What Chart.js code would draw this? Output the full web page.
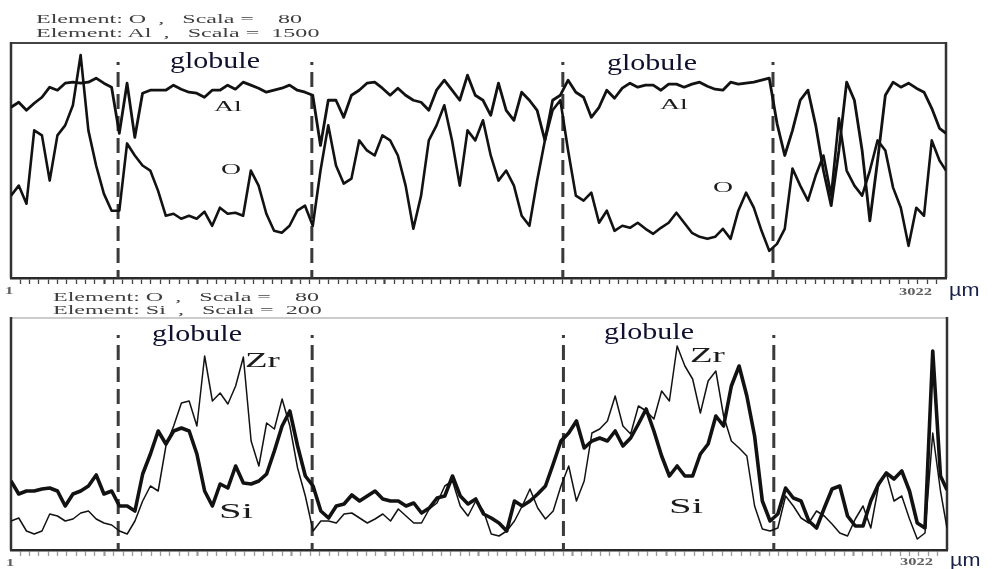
<!DOCTYPE html>
<html>
<head>
<meta charset="utf-8">
<script src="https://cdn.jsdelivr.net/npm/chart.js@4.4.1/dist/chart.umd.min.js"></script>
<style>
  body { margin: 0; background: #fff; width: 993px; height: 569px; position: relative; overflow: hidden; font-family: "Liberation Serif", "DejaVu Serif", serif; }
  canvas { position: absolute; left: 0; }
  #topChart { top: 0; }
  #bottomChart { top: 290px; }
  .txt { position: absolute; white-space: pre; transform-origin: 0 0; line-height: 1; }
  .head { font-size: 13px; color: #3f3f3f; transform: scaleX(1.85); }
  .glob { font-size: 24px; color: #0f0f2e; transform: scaleX(1.25); }
  .el { color: #1c1c1c; transform: scaleX(1.85); }
  .end { font-size: 11px; color: #5e5e5e; font-weight: bold; transform: scaleX(1.5); }
  .unit { font-family: "Liberation Sans", Arial, sans-serif; font-size: 18px; color: #18204a; transform: scaleX(1.2); }
</style>
</head>
<body>
<canvas id="topChart" width="993" height="300"></canvas>
<canvas id="bottomChart" width="993" height="279"></canvas>

<div class="txt head" style="left:36px; top:12px;">Element: O  ,   Scala =    80</div>
<div class="txt head" style="left:36px; top:26px;">Element: Al  ,   Scala =  1500</div>
<div class="txt head" style="left:53px; top:290px;">Element: O  ,   Scala =    80</div>
<div class="txt head" style="left:53px; top:303px;">Element: Si  ,   Scala =  200</div>

<div class="txt glob" style="left:170px; top:48px;">globule</div>
<div class="txt glob" style="left:607px; top:50px;">globule</div>
<div class="txt glob" style="left:152px; top:321px;">globule</div>
<div class="txt glob" style="left:604px; top:319px;">globule</div>

<div class="txt el" style="left:214px; top:99px; font-size:15px;">Al</div>
<div class="txt el" style="left:221px; top:162px; font-size:15px;">O</div>
<div class="txt el" style="left:660px; top:97px; font-size:15px;">Al</div>
<div class="txt el" style="left:713px; top:180px; font-size:15px;">O</div>
<div class="txt el" style="left:245px; top:350px; font-size:20px;">Zr</div>
<div class="txt el" style="left:219px; top:500px; font-size:22px;">Si</div>
<div class="txt el" style="left:690px; top:345px; font-size:20px;">Zr</div>
<div class="txt el" style="left:669px; top:495px; font-size:22px;">Si</div>

<div class="txt end" style="left:5px; top:285px;">1</div>
<div class="txt end" style="left:899px; top:286px;">3022</div>
<div class="txt unit" style="left:949px; top:281px;">µm</div>
<div class="txt end" style="left:6px; top:557px;">1</div>
<div class="txt end" style="left:900px; top:556px;">3022</div>
<div class="txt unit" style="left:950px; top:551px;">µm</div>

<script>
// scan positions along the line, µm
const distance = [
  1, 26, 51, 76, 101, 126, 151, 176, 201, 226, 251, 276, 301, 326, 351, 376, 401, 426, 451, 476,
  501, 526, 551, 576, 601, 626, 651, 676, 701, 726, 751, 776, 801, 826, 851, 876, 901, 926, 951, 976,
  1001, 1026, 1051, 1076, 1101, 1126, 1151, 1176, 1201, 1226, 1251, 1276, 1301, 1326, 1351, 1376, 1401, 1426, 1451, 1476,
  1501, 1526, 1551, 1576, 1601, 1626, 1651, 1676, 1701, 1726, 1751, 1776, 1801, 1826, 1851, 1876, 1901, 1926, 1951, 1976,
  2001, 2026, 2051, 2076, 2101, 2126, 2151, 2176, 2201, 2226, 2251, 2276, 2301, 2326, 2351, 2376, 2401, 2426, 2451, 2476,
  2501, 2526, 2551, 2576, 2601, 2626, 2651, 2676, 2701, 2726, 2751, 2776, 2801, 2826, 2851, 2876, 2901, 2926, 2951, 2976,
  3001, 3022
];

// globule boundaries, µm
const globuleEdges = [347, 973, 1784, 2463];

// scan length is split into 100 divisions, every 10th is a main one
const scanLength = 3022;
const divisions = 100;

// upper scan: Al (Scala 1500) and O (Scala 80), relative counts
const alCounts = [
  170, 175, 167, 174, 180, 190, 187, 194, 195, 194, 195, 199, 194, 190, 144, 194, 140, 184, 187, 187,
  187, 192, 188, 185, 184, 180, 187, 187, 192, 188, 195, 192, 189, 185, 187, 189, 192, 187, 185, 182,
  132, 177, 177, 160, 182, 187, 194, 195, 189, 182, 189, 182, 177, 175, 167, 187, 197, 187, 177, 202,
  182, 177, 162, 194, 167, 157, 185, 177, 167, 137, 177, 182, 197, 185, 180, 160, 170, 187, 179, 189,
  194, 190, 192, 192, 187, 193, 193, 190, 193, 195, 191, 188, 187, 195, 193, 194, 195, 197, 199, 154,
  122, 147, 177, 187, 152, 107, 72, 127, 195, 177, 127, 57, 117, 182, 195, 190, 194, 189, 185, 169,
  149, 144
];
const oCountsTop = [
  82, 92, 74, 147, 142, 97, 142, 152, 172, 222, 147, 112, 84, 67, 67, 134, 122, 112, 107, 87,
  62, 64, 59, 62, 59, 66, 52, 70, 64, 65, 62, 107, 92, 64, 47, 45, 52, 67, 72, 52,
  107, 152, 112, 94, 99, 137, 127, 122, 142, 137, 122, 92, 49, 82, 137, 152, 172, 137, 92, 147,
  137, 157, 122, 97, 107, 92, 62, 52, 97, 137, 167, 177, 127, 82, 77, 85, 55, 67, 47, 52,
  50, 55, 49, 44, 50, 55, 65, 55, 45, 41, 39, 41, 49, 39, 67, 85, 70, 47, 27, 34,
  49, 109, 92, 77, 102, 122, 82, 159, 107, 92, 82, 107, 137, 127, 90, 70, 32, 70, 62, 137,
  117, 107
];

// lower scan: Si (Scala 200) and Zr, relative counts
const siCounts = [
  69, 56, 59, 59, 61, 62, 59, 44, 56, 59, 64, 75, 56, 59, 44, 44, 39, 76, 96, 119,
  106, 119, 122, 119, 96, 59, 44, 66, 62, 84, 67, 66, 69, 76, 99, 124, 139, 104, 74, 64,
  39, 32, 44, 46, 55, 49, 54, 59, 51, 49, 49, 44, 47, 37, 42, 52, 54, 74, 54, 46,
  51, 36, 32, 27, 19, 49, 44, 49, 56, 64, 86, 109, 117, 129, 102, 109, 112, 109, 119, 104,
  112, 126, 141, 119, 94, 74, 84, 74, 74, 96, 106, 134, 124, 164, 184, 154, 114, 49, 29, 36,
  62, 52, 49, 29, 22, 42, 61, 64, 34, 24, 24, 49, 66, 77, 71, 79, 59, 27, 22, 199,
  74, 60
];
const zrCounts = [
  29, 32, 19, 16, 19, 36, 34, 29, 31, 37, 39, 31, 27, 25, 19, 16, 29, 49, 64, 59,
  104, 124, 147, 149, 124, 194, 149, 157, 146, 164, 193, 109, 84, 127, 121, 151, 124, 82, 54, 19,
  29, 29, 27, 36, 37, 32, 27, 31, 36, 29, 41, 34, 27, 27, 41, 47, 64, 69, 44, 34,
  49, 39, 16, 14, 19, 29, 44, 61, 42, 31, 39, 64, 84, 49, 69, 117, 121, 129, 154, 124,
  116, 144, 139, 131, 159, 149, 204, 184, 171, 137, 169, 179, 134, 109, 102, 94, 44, 21, 19, 22,
  54, 44, 32, 27, 39, 34, 26, 17, 14, 31, 44, 22, 64, 77, 49, 54, 31, 11, 17, 117,
  59, 22
];

const toPoints = (values) => values.map((v, i) => ({ x: distance[i], y: v }));

// box around the plot + dashed globule boundaries
const panelFrame = {
  id: 'panelFrame',
  beforeDatasetsDraw(chart, args, opts) {
    const { ctx, chartArea: a, scales: { x } } = chart;
    ctx.save();
    ctx.strokeStyle = opts.topColor;
    ctx.lineWidth = opts.topWidth;
    ctx.beginPath();
    ctx.moveTo(a.left, a.top);
    ctx.lineTo(a.right, a.top);
    ctx.stroke();
    ctx.strokeStyle = '#333';
    ctx.lineWidth = 2.5;
    ctx.beginPath();
    ctx.moveTo(a.left, a.top - 1);
    ctx.lineTo(a.left, a.bottom);
    ctx.moveTo(a.right, a.top - 1);
    ctx.lineTo(a.right, a.bottom);
    ctx.stroke();

    ctx.strokeStyle = '#3a3a3a';
    ctx.lineWidth = 3;
    globuleEdges.forEach(edge => {
      const px = x.getPixelForValue(edge);
      ctx.setLineDash([]);
      ctx.beginPath();
      ctx.moveTo(px, a.top + opts.dashStart - 10);
      ctx.lineTo(px, a.top + opts.dashStart - 7);
      ctx.stroke();
      ctx.setLineDash([15, 7]);
      ctx.beginPath();
      ctx.moveTo(px, a.top + opts.dashStart);
      ctx.lineTo(px, a.bottom);
      ctx.stroke();
    });
    ctx.restore();
  }
};

const makeScan = (canvasId, series, yMax, padding, frame, tickColor) => new Chart(document.getElementById(canvasId), {
  type: 'line',
  data: {
    datasets: series.map(s => ({
      label: s.label,
      data: toPoints(s.values),
      borderColor: '#121212',
      borderWidth: s.width,
      borderJoinStyle: 'round',
      pointRadius: 0,
      tension: 0
    }))
  },
  options: {
    responsive: false,
    animation: false,
    layout: { padding },
    plugins: { legend: { display: false }, tooltip: { enabled: false }, panelFrame: frame },
    scales: {
      x: {
        type: 'linear',
        min: 1,
        max: scanLength,
        ticks: { display: false },
        afterBuildTicks: (scale) => {
          scale.ticks = [];
          for (let k = 1; k < divisions; k++) scale.ticks.push({ value: k * scanLength / divisions });
        },
        grid: {
          drawOnChartArea: false,
          drawTicks: true,
          tickLength: 6,
          tickColor,
          tickWidth: (c) => ((c.index + 1) % 10 === 0 ? 2.2 : 1.3)
        },
        border: { color: '#2a2a2a', width: 2.5 }
      },
      y: { min: 0, max: yMax, display: false }
    }
  },
  plugins: [panelFrame]
});

makeScan('topChart', [
  { label: 'Al', values: alCounts, width: 2.8 },
  { label: 'O', values: oCountsTop, width: 2.6 }
], 234, { left: 11, top: 43, right: 47, bottom: 16 }, { topColor: '#444', topWidth: 2, dashStart: 29 }, '#444');

makeScan('bottomChart', [
  { label: 'Si', values: siCounts, width: 3.6 },
  { label: 'Zr', values: zrCounts, width: 1.5 }
], 232, { left: 11, top: 28, right: 46, bottom: 13 }, { topColor: '#999', topWidth: 1, dashStart: 27 }, '#9a9a9a');
</script>
</body>
</html>
